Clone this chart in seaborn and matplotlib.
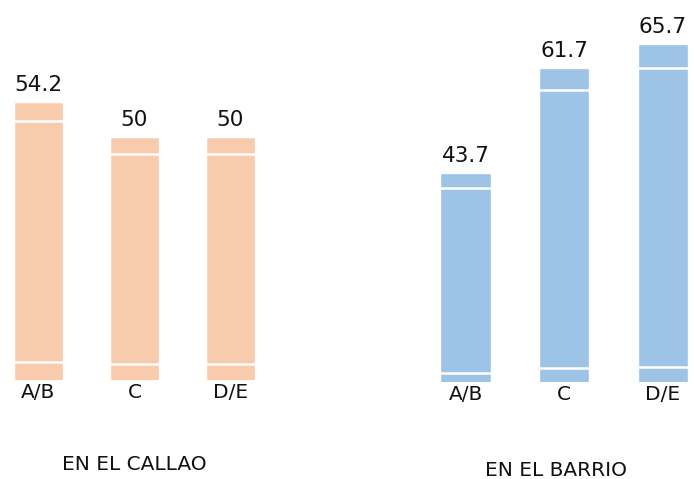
import matplotlib
matplotlib.use("Agg")
import matplotlib.pyplot as plt
import seaborn as sns

# data
segments = ["A/B", "C", "D/E"]
callao_values = [54.2, 50, 50]
barrio_values = [43.7, 61.7, 65.7]
group_titles = ["EN EL CALLAO", "EN EL BARRIO"]

PEACH = "#F8CBAD"
BLUE = "#9DC3E6"

sns.set_theme(style="white")
plt.rcParams["font.family"] = ["DejaVu Sans"]

fig = plt.figure(figsize=(6.94, 4.79), dpi=100)


def draw_group(ax, values, color, ymin, ymax, foot):
    sns.barplot(x=segments, y=values, color=color, saturation=1, width=0.51, ax=ax)
    ax.set_ylim(ymin, ymax)
    ax.set_xlim(-0.4, 2.4)
    # thin white bands near the top and bottom of each bar
    for p, v in zip(ax.patches, values):
        h = v - ymin
        x0, x1 = p.get_x(), p.get_x() + p.get_width()
        ax.hlines([v - 0.07 * h, ymin + foot * h], x0, x1, colors="white", lw=1.8)
    ax.bar_label(ax.containers[0], labels=[f"{v:g}" for v in values],
                 padding=5, fontsize=15.5, color="#111111")
    ax.set_xlabel("")
    ax.set_ylabel("")
    ax.set_yticks([])
    ax.tick_params(axis="x", length=0, pad=2, labelsize=14.5, labelcolor="#111111")
    sns.despine(ax=ax, left=True, bottom=True)
    ax.patch.set_alpha(0)


ax1 = fig.add_axes([0.0, 0.2067, 0.3873, 0.7516])
draw_group(ax1, callao_values, PEACH, 20.8, 64.0, 0.065)

ax2 = fig.add_axes([0.6138, 0.2025, 0.3984, 0.7724])
draw_group(ax2, barrio_values, BLUE, 8.0, 71.2, 0.045)

fig.text(134 / 694, 1 - 465 / 479, group_titles[0], ha="center", va="center",
         fontsize=14.5, color="#111111")
fig.text(556 / 694, 1 - 470 / 479, group_titles[1], ha="center", va="center",
         fontsize=14.5, color="#111111")

fig.savefig("out.png", dpi=100)
